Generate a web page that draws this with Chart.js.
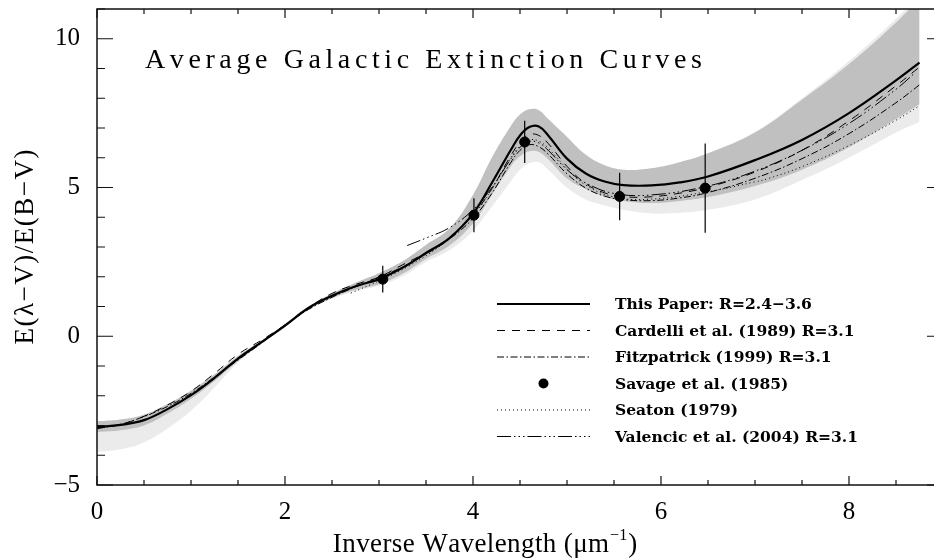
<!DOCTYPE html>
<html><head><meta charset="utf-8">
<script src="https://cdn.jsdelivr.net/npm/chart.js@4/dist/chart.umd.min.js"></script>
<style>
html,body{margin:0;padding:0;background:#fff;overflow:hidden;width:934px;height:559px}
#wrap{width:950px;height:559px}
canvas{display:block}
</style></head><body>
<div id="wrap"><canvas id="c" width="950" height="559"></canvas></div>
<script>
// ---- data ----
const xGrid      = [0,0.25,0.5,0.75,1,1.25,1.5,1.75,2,2.25,2.5,2.75,3,3.25,3.5,3.75,4,4.2,4.4,4.5,4.6,4.7,4.8,5,5.2,5.4,5.6,5.9,6.2,6.5,7,7.5,8,8.5,8.75];
const thisPaper  = [-3.05,-2.98,-2.82,-2.45,-1.98,-1.4,-0.75,-0.2,0.36,0.95,1.36,1.68,1.92,2.3,2.8,3.3,4.12,5.15,6.25,6.75,7.03,7.05,6.75,5.97,5.47,5.2,5.08,5.07,5.17,5.37,5.92,6.6,7.5,8.6,9.2];
const cardelli   = [-3.1,-2.97,-2.69,-2.31,-1.85,-1.25,-0.61,-0.13,0.38,0.96,1.44,1.74,1.99,2.4,2.81,3.32,4.08,4.96,6.06,6.52,6.78,6.75,6.48,5.71,5.13,4.82,4.69,4.69,4.81,5.01,5.52,6.25,7.24,8.42,9.05];
const fitzpatrick= [-3.1,-2.96,-2.7,-2.36,-1.92,-1.37,-0.8,-0.23,0.38,0.9,1.31,1.66,1.98,2.33,2.76,3.27,3.96,4.8,5.83,6.25,6.44,6.37,6.12,5.46,4.98,4.71,4.59,4.56,4.65,4.83,5.31,5.97,6.81,7.85,8.45];
const darkHi     = [-2.86,-2.8,-2.64,-2.28,-1.83,-1.28,-0.66,-0.15,0.41,1.0,1.44,1.8,2.12,2.52,3.07,3.62,4.75,6.0,7.05,7.45,7.63,7.6,7.3,6.7,6.1,5.75,5.6,5.65,5.85,6.15,6.85,7.95,9.15,10.55,11.35];
const darkLo     = [-3.22,-3.16,-3.0,-2.6,-2.1,-1.5,-0.84,-0.25,0.31,0.9,1.28,1.56,1.75,2.1,2.6,3.05,3.8,4.75,5.7,6.05,6.22,6.2,5.95,5.3,4.95,4.7,4.55,4.48,4.55,4.68,5.05,5.6,6.35,7.3,7.8];
const lightHi    = [-2.86,-2.8,-2.64,-2.28,-1.83,-1.28,-0.66,-0.15,0.41,1.0,1.44,1.8,2.12,2.52,3.07,3.62,4.75,6.0,7.05,7.45,7.63,7.6,7.3,6.7,6.1,5.75,5.6,5.65,5.85,6.15,6.87,8.0,9.25,10.67,11.5];
const lightLo    = [-3.89,-3.8,-3.57,-3.1,-2.5,-1.72,-0.88,-0.25,0.31,0.9,1.26,1.52,1.7,2.02,2.5,2.9,3.55,4.35,5.2,5.6,5.82,5.85,5.6,5.0,4.6,4.4,4.25,4.13,4.15,4.25,4.6,5.25,6.0,6.85,7.2];
const seatonX    = [2.7,3.0,3.3,3.65,4.0,4.2,4.4,4.5,4.6,4.7,4.8,5.0,5.2,5.5,5.9,6.5,7.0,7.14,7.5,8.0,8.5,8.75];
const seatonY    = [1.45,1.86,2.33,3.04,4.06,4.95,5.98,6.39,6.6,6.56,6.32,5.63,5.08,4.68,4.61,4.86,5.19,5.3,5.7,6.41,7.26,7.75];
const valencicX  = [3.3,3.5,3.75,4.0,4.2,4.4,4.5,4.6,4.7,4.8,5.0,5.2,5.5,5.9,6.5,7.0,7.5,8.0,8.5,8.7];
const valencicY  = [3.05,3.3,3.65,4.25,5.0,5.95,6.35,6.55,6.5,6.25,5.6,5.15,4.8,4.75,5.05,5.55,6.25,7.15,8.3,8.85];
const savageX    = [3.04,4.01,4.55,5.56,6.47];
const savageY    = [1.92,4.07,6.53,4.7,4.98];
const savageErr  = [0.45,0.57,0.71,0.8,1.5];
const xTicksMajor = [0,2,4,6,8];
const yTicksMajor = [-5,0,5,10];

const pts = (xs, ys) => xs.map((x, i) => ({x, y: ys[i]}));
const errPts = [];
savageX.forEach((x, i) => {
  errPts.push({x, y: savageY[i] - savageErr[i]}, {x, y: savageY[i] + savageErr[i]}, {x, y: null});
});

const SERIF = '"Liberation Serif", "DejaVu Serif", serif';
const clear = 'rgba(0,0,0,0)';

function spaced(ctx, text, x, y, sp) {
  let cx = x;
  for (const ch of text) { ctx.fillText(ch, cx, y); cx += ctx.measureText(ch).width + sp; }
  return cx - sp;
}
function spacedWidth(ctx, text, sp) {
  let w = 0; for (const ch of text) w += ctx.measureText(ch).width + sp; return w - sp;
}

const decor = {
  id: 'decor',
  afterDraw(chart) {
    const {ctx, chartArea: a, scales: {x, y}} = chart;
    ctx.save();
    // frame
    ctx.strokeStyle = '#111'; ctx.lineWidth = 1.5; ctx.setLineDash([]);
    ctx.strokeRect(a.left, a.top, a.right - a.left, a.bottom - a.top);
    // inward ticks
    ctx.lineWidth = 1.2;
    ctx.beginPath();
    for (let v = 0; v <= 9.001; v += 0.5) {
      const px = x.getPixelForValue(v);
      const len = Math.abs(v % 2) < 1e-6 ? 9 : 5;
      ctx.moveTo(px, a.bottom); ctx.lineTo(px, a.bottom - len);
      ctx.moveTo(px, a.top); ctx.lineTo(px, a.top + len);
    }
    for (let v = -5; v <= 11; v += 1) {
      const py = y.getPixelForValue(v);
      const len = v % 5 === 0 ? 16 : 8;
      ctx.moveTo(a.left, py); ctx.lineTo(a.left + len, py);
      ctx.moveTo(a.right, py); ctx.lineTo(a.right - len, py);
    }
    ctx.stroke();

    ctx.fillStyle = '#000';
    // title inside plot
    ctx.font = '28px ' + SERIF; ctx.textBaseline = 'alphabetic'; ctx.textAlign = 'left';
    spaced(ctx, 'Average Galactic Extinction Curves', 145, 68, 4.6);

    // x-axis title
    ctx.font = '27px ' + SERIF;
    const p1 = 'Inverse Wavelength (\u03BCm', sup = '\u22121', p3 = ')';
    const sp = 0.4;
    const w1 = spacedWidth(ctx, p1, sp);
    ctx.font = '16px ' + SERIF; const w2 = spacedWidth(ctx, sup, 0);
    ctx.font = '27px ' + SERIF; const w3 = ctx.measureText(p3).width;
    let sx = 485 - (w1 + w2 + w3 + 2) / 2;
    let ex = spaced(ctx, p1, sx, 552, sp);
    ctx.font = '16px ' + SERIF; ex = spaced(ctx, sup, ex + 1, 540, 0);
    ctx.font = '27px ' + SERIF; ctx.fillText(p3, ex + 1, 552);

    // y-axis title
    ctx.save();
    ctx.translate(33, 247); ctx.rotate(-Math.PI / 2);
    ctx.font = '27px ' + SERIF;
    const yt = 'E(\u03BB\u2212V)/E(B\u2212V)';
    const yw = spacedWidth(ctx, yt, 1.5);
    spaced(ctx, yt, -yw / 2, 0, 1.5);
    ctx.restore();

    // legend
    const rows = chart.data.datasets.map((d, i) => i).filter(i => chart.data.datasets[i].legendRow !== undefined)
      .sort((i, j) => chart.data.datasets[i].legendRow - chart.data.datasets[j].legendRow);
    const lx0 = 497, lx1 = 590, tx = 615, ry0 = 304, rdy = 26.5;
    ctx.font = 'bold 15.5px "DejaVu Serif", serif'; ctx.textBaseline = 'middle';
    rows.forEach((di, k) => {
      const ds = chart.data.datasets[di];
      const ry = ry0 + k * rdy;
      if (ds.showLine === false) {
        ctx.beginPath(); ctx.arc((lx0 + lx1) / 2, ry, ds.pointRadius, 0, Math.PI * 2); ctx.fill();
      } else {
        ctx.beginPath(); ctx.setLineDash(ds.borderDash || []); ctx.lineWidth = ds.borderWidth;
        ctx.strokeStyle = '#000';
        ctx.moveTo(lx0, ry); ctx.lineTo(lx1, ry); ctx.stroke(); ctx.setLineDash([]);
      }
      ctx.fillText(ds.label, tx, ry + 1);
    });
    ctx.restore();
  }
};

new Chart(document.getElementById('c'), {
  type: 'line',
  data: {
    datasets: [
      {label: 'This Paper: R=2.4\u22123.6', data: pts(xGrid, thisPaper), borderColor: '#000', borderWidth: 2.2, order: 1, legendRow: 0},
      {label: 'Cardelli et al. (1989) R=3.1', data: pts(xGrid, cardelli), borderColor: '#000', borderWidth: 1, borderDash: [8, 7], order: 2, legendRow: 1},
      {label: 'Fitzpatrick (1999) R=3.1', data: pts(xGrid, fitzpatrick), borderColor: '#000', borderWidth: 1, borderDash: [7, 2.5, 1.5, 2.5], order: 3, legendRow: 2},
      {label: 'Savage et al. (1985)', data: pts(savageX, savageY), showLine: false, pointRadius: 5, pointBackgroundColor: '#000', pointBorderColor: '#000', order: 0, legendRow: 3},
      {label: 'Seaton (1979)', data: pts(seatonX, seatonY), borderColor: '#000', borderWidth: 1, borderDash: [1, 3], order: 4, legendRow: 4},
      {label: 'Valencic et al. (2004) R=3.1', data: pts(valencicX, valencicY), borderColor: '#000', borderWidth: 1, borderDash: [14, 3, 1.5, 3, 1.5, 3, 1.5, 3], order: 5, legendRow: 5},
      {label: 'err', data: errPts, borderColor: '#000', borderWidth: 1.2, tension: 0, spanGaps: false, order: 0},
      {label: 'darkHi', data: pts(xGrid, darkHi), borderColor: clear, borderWidth: 0, backgroundColor: '#c0c0c0', fill: 8, order: 9},
      {label: 'darkLo', data: pts(xGrid, darkLo), borderColor: clear, borderWidth: 0, fill: false, order: 9},
      {label: 'lightHi', data: pts(xGrid, lightHi), borderColor: clear, borderWidth: 0, backgroundColor: '#ebebeb', fill: 10, order: 10},
      {label: 'lightLo', data: pts(xGrid, lightLo), borderColor: clear, borderWidth: 0, fill: false, order: 10}
    ]
  },
  options: {
    responsive: false, animation: false, devicePixelRatio: 1,
    layout: {padding: {top: 9, right: 7, left: 0, bottom: 0}},
    elements: {point: {radius: 0, hoverRadius: 0}, line: {tension: 0.4, fill: false}},
    plugins: {legend: {display: false}, tooltip: {enabled: false}},
    events: [],
    scales: {
      x: {type: 'linear', min: 0, max: 9,
          afterFit: s => { s.height = 74; s.paddingLeft = 0; s.paddingRight = 0; },
          afterBuildTicks: s => { s.ticks = xTicksMajor.map(v => ({value: v})); },
          grid: {display: false}, border: {display: false},
          ticks: {color: '#000', font: {family: SERIF, size: 25}, padding: 4, maxRotation: 0}},
      y: {type: 'linear', min: -5, max: 11,
          afterFit: s => { s.width = 97; s.paddingTop = 0; s.paddingBottom = 0; },
          afterBuildTicks: s => { s.ticks = yTicksMajor.map(v => ({value: v})); },
          grid: {display: false}, border: {display: false},
          ticks: {color: '#000', font: {family: SERIF, size: 25}, padding: 9,
                  callback: v => String(v).replace('-', '\u2212')}}
    }
  },
  plugins: [decor]
});
</script>
</body></html>
